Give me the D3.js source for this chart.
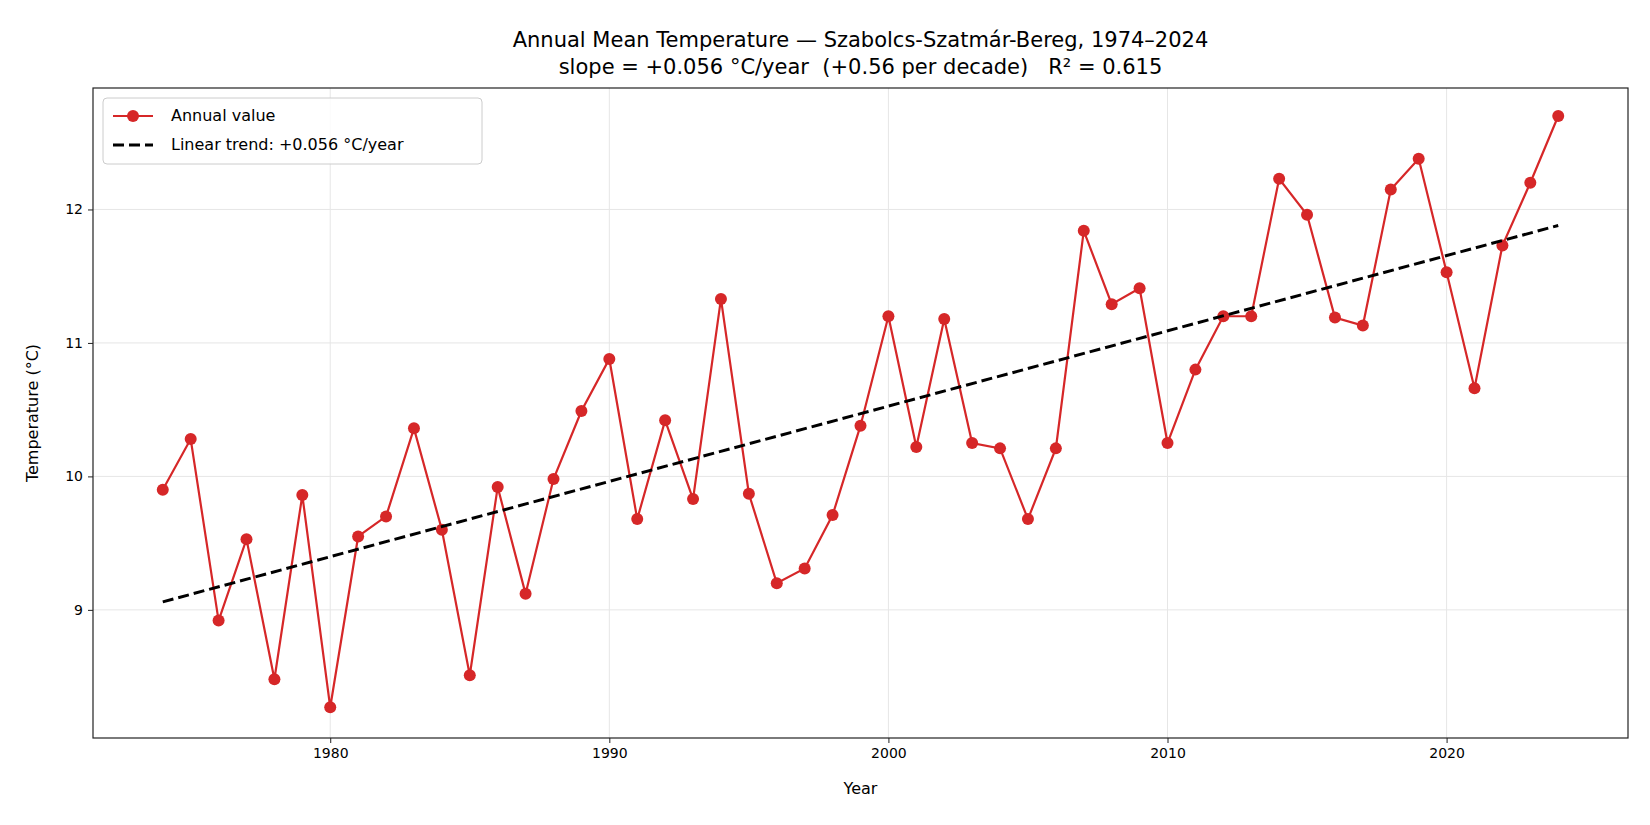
<!DOCTYPE html>
<html><head><meta charset="utf-8">
<script src="https://cdn.jsdelivr.net/npm/d3@7"></script>
<style>body{margin:0;background:#fff}svg{font-family:"DejaVu Sans",sans-serif}text{white-space:pre}</style>
</head><body>
<script>
const years = d3.range(1974, 2025);
const temps = [9.90,10.28,8.92,9.53,8.48,9.86,8.27,9.55,9.70,10.36,9.60,8.51,9.92,9.12,9.98,10.49,10.88,9.68,10.42,9.83,11.33,9.87,9.20,9.31,9.71,10.38,11.20,10.22,11.18,10.25,10.21,9.68,10.21,11.84,11.29,11.41,10.25,10.80,11.20,11.20,12.23,11.96,11.19,11.13,12.15,12.38,11.53,10.66,11.73,12.20,12.70];
const trendYears = [1974, 2024];
const trendVals = [9.06, 11.88];
const xTicks = [1980, 1990, 2000, 2010, 2020];
const yTicks = [9, 10, 11, 12];

const W = 1650, H = 825;
const m = {left: 93, right: 22, top: 88, bottom: 87};
const svg = d3.select("body").append("svg").attr("width", W).attr("height", H);
const x = d3.scaleLinear().domain([1971.5, 2026.5]).range([m.left, W - m.right]);
const y = d3.scaleLinear().domain([8.04, 12.91]).range([H - m.bottom, m.top]);

// grid
svg.append("g").selectAll("line").data(xTicks).join("line")
  .attr("x1", d => x(d)).attr("x2", d => x(d)).attr("y1", m.top).attr("y2", H - m.bottom)
  .attr("stroke", "#e6e6e6");
svg.append("g").selectAll("line").data(yTicks).join("line")
  .attr("y1", d => y(d)).attr("y2", d => y(d)).attr("x1", m.left).attr("x2", W - m.right)
  .attr("stroke", "#e6e6e6");

const xa = svg.append("g").attr("transform", `translate(0,${H - m.bottom})`)
  .call(d3.axisBottom(x).tickValues(xTicks).tickFormat(d3.format("d")).tickSize(5).tickPadding(5));
const ya = svg.append("g").attr("transform", `translate(${m.left},0)`)
  .call(d3.axisLeft(y).tickValues(yTicks).tickFormat(d3.format("d")).tickSize(5).tickPadding(5));
[xa, ya].forEach(a => {
  a.attr("font-family", null).attr("font-size", null);
  a.select(".domain").remove();
  a.selectAll("text").style("font-size", "14px").attr("fill", "#000");
  a.selectAll("line").attr("stroke", "#222");
});
svg.append("rect").attr("x", m.left).attr("y", m.top).attr("width", W - m.left - m.right)
  .attr("height", H - m.top - m.bottom).attr("fill", "none").attr("stroke", "#222").attr("stroke-width", 1.2);

// series
svg.append("path").datum(years.map((yr, i) => [yr, temps[i]]))
  .attr("d", d3.line().x(d => x(d[0])).y(d => y(d[1])))
  .attr("fill", "none").attr("stroke", "#d62728").attr("stroke-width", 2.2);
svg.append("g").selectAll("circle").data(years).join("circle")
  .attr("cx", d => x(d)).attr("cy", (d, i) => y(temps[i])).attr("r", 6).attr("fill", "#d62728");
svg.append("path").datum(trendYears.map((yr, i) => [yr, trendVals[i]]))
  .attr("d", d3.line().x(d => x(d[0])).y(d => y(d[1])))
  .attr("fill", "none").attr("stroke", "#000").attr("stroke-width", 3).attr("stroke-dasharray", "11,5");

// titles
svg.append("text").attr("x", (m.left + W - m.right) / 2).attr("y", 47).attr("text-anchor", "middle")
  .attr("font-size", 21).text("Annual Mean Temperature — Szabolcs-Szatmár-Bereg, 1974–2024");
svg.append("text").attr("x", (m.left + W - m.right) / 2).attr("y", 74).attr("text-anchor", "middle")
  .attr("font-size", 21).text("slope = +0.056 °C/year  (+0.56 per decade)   R² = 0.615");
svg.append("text").attr("x", (m.left + W - m.right) / 2).attr("y", 794).attr("text-anchor", "middle")
  .attr("font-size", 16).text("Year");
svg.append("text").attr("transform", `translate(38,${(m.top + H - m.bottom) / 2}) rotate(-90)`)
  .attr("text-anchor", "middle").attr("font-size", 16).text("Temperature (°C)");

// legend
const lg = svg.append("g").attr("transform", "translate(103,98)");
lg.append("rect").attr("width", 379).attr("height", 66).attr("rx", 4).attr("fill", "#fff")
  .attr("fill-opacity", 0.8).attr("stroke", "#ccc");
lg.append("line").attr("x1", 10).attr("x2", 50).attr("y1", 18).attr("y2", 18).attr("stroke", "#d62728").attr("stroke-width", 2.2);
lg.append("circle").attr("cx", 30).attr("cy", 18).attr("r", 6).attr("fill", "#d62728");
lg.append("line").attr("x1", 10).attr("x2", 50).attr("y1", 47).attr("y2", 47).attr("stroke", "#000").attr("stroke-width", 3).attr("stroke-dasharray", "11,5");
lg.append("text").attr("x", 68).attr("y", 23).attr("font-size", 16).text("Annual value");
lg.append("text").attr("x", 68).attr("y", 52).attr("font-size", 16).text("Linear trend: +0.056 °C/year");
</script>
</body></html>
